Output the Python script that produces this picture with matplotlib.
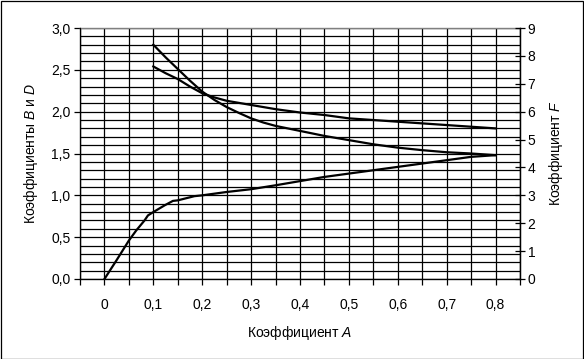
import matplotlib
matplotlib.use("Agg")
import matplotlib.pyplot as plt
from matplotlib.ticker import MultipleLocator, FuncFormatter
from matplotlib.patches import Rectangle

plt.rcParams['font.family'] = ['Liberation Sans', 'DejaVu Sans']
plt.rcParams['mathtext.fontset'] = 'custom'
plt.rcParams['mathtext.rm'] = 'Liberation Sans'
plt.rcParams['mathtext.it'] = 'Liberation Sans:italic'

# coefficient A for the B and D curves
a_bd = [0.1, 0.125, 0.15, 0.175, 0.2, 0.225, 0.25, 0.275, 0.3, 0.325, 0.35, 0.375,
        0.4, 0.45, 0.5, 0.55, 0.6, 0.65, 0.7, 0.75, 0.8]
coef_b = [2.80, 2.65, 2.51, 2.37, 2.24, 2.14, 2.055, 1.985, 1.92, 1.87, 1.83, 1.80,
          1.77, 1.71, 1.66, 1.61, 1.57, 1.54, 1.515, 1.50, 1.48]
coef_d = [2.54, 2.46, 2.39, 2.30, 2.22, 2.17, 2.13, 2.105, 2.08, 2.055, 2.03, 2.01,
          1.99, 1.96, 1.92, 1.90, 1.88, 1.86, 1.84, 1.82, 1.80]

# coefficient F (right axis)
a_f = [0, 0.025, 0.05, 0.065, 0.082, 0.089, 0.1, 0.123, 0.14, 0.15, 0.184, 0.2, 0.25, 0.3,
       0.35, 0.4, 0.45, 0.5, 0.55, 0.6, 0.65, 0.7, 0.75, 0.8]
coef_f = [0, 0.68, 1.38, 1.74, 2.10, 2.28, 2.40, 2.64, 2.80, 2.82, 2.97, 3.00, 3.12, 3.22,
          3.36, 3.51, 3.66, 3.78, 3.90, 4.02, 4.14, 4.26, 4.38, 4.44]

x_ticks = [0, 0.1, 0.2, 0.3, 0.4, 0.5, 0.6, 0.7, 0.8]
left_ticks = [0, 0.5, 1.0, 1.5, 2.0, 2.5, 3.0]
right_ticks = list(range(10))


def comma(v, pos=None):
    s = "%g" % round(v, 2)
    return s.replace(".", ",")


def comma1(v, pos=None):
    return ("%.1f" % v).replace(".", ",")


fig = plt.figure(figsize=(5.84, 3.59), dpi=100)
ax = fig.add_axes([80 / 584, 1 - 279 / 359, 440 / 584, 251 / 359])

ax.plot(a_bd, coef_b, color='black', lw=1.6, zorder=3)
ax.plot(a_bd, coef_d, color='black', lw=1.6, zorder=3)

ax.set_xlim(-0.05, 0.85)
ax.set_ylim(0, 3.0)
ax.set_xticks(x_ticks)
ax.xaxis.set_minor_locator(MultipleLocator(0.05))
ax.set_yticks(left_ticks)
ax.yaxis.set_minor_locator(MultipleLocator(0.1))
ax.xaxis.set_major_formatter(FuncFormatter(comma))
ax.yaxis.set_major_formatter(FuncFormatter(comma1))

ax.grid(True, which='both', color='black', lw=0.9)
ax.set_axisbelow(True)
ax.tick_params(axis='x', which='both', direction='out', length=4, width=0.9,
               labelsize=10, pad=10)
ax.tick_params(axis='y', which='major', direction='out', length=4, width=0.9,
               labelsize=10, pad=3)
ax.tick_params(axis='y', which='minor', length=0)
ax.tick_params(axis='x', which='minor', length=4, width=0.9)

for side in ['left', 'bottom', 'right']:
    ax.spines[side].set_color('black')
    ax.spines[side].set_linewidth(0.9)
ax.spines['top'].set_color('#808080')
ax.spines['top'].set_linewidth(1.0)

ax.set_xlabel("Коэффициент $\\it{A}$", fontsize=10, labelpad=8)
ax.set_ylabel("Коэффициенты $\\it{B}$ и $\\it{D}$", fontsize=10, labelpad=8)

ax2 = ax.twinx()
ax2.plot(a_f, coef_f, color='black', lw=1.6, zorder=3)
ax2.set_ylim(0, 9)
ax2.set_yticks(right_ticks)
ax2.tick_params(axis='y', direction='inout', length=7, width=0.9, labelsize=10, pad=2)
ax2.spines['right'].set_color('black')
ax2.spines['right'].set_linewidth(0.9)
ax2.spines['top'].set_visible(False)
ax2.set_ylabel("Коэффициент $\\it{F}$", fontsize=10, labelpad=8)

fig.patches.append(Rectangle((0.5 / 584, 0.5 / 359), 1 - 1.5 / 584, 1 - 1.5 / 359,
                             transform=fig.transFigure, fill=False,
                             edgecolor='black', lw=0.9))

fig.savefig("out.png", dpi=100, facecolor='white')
